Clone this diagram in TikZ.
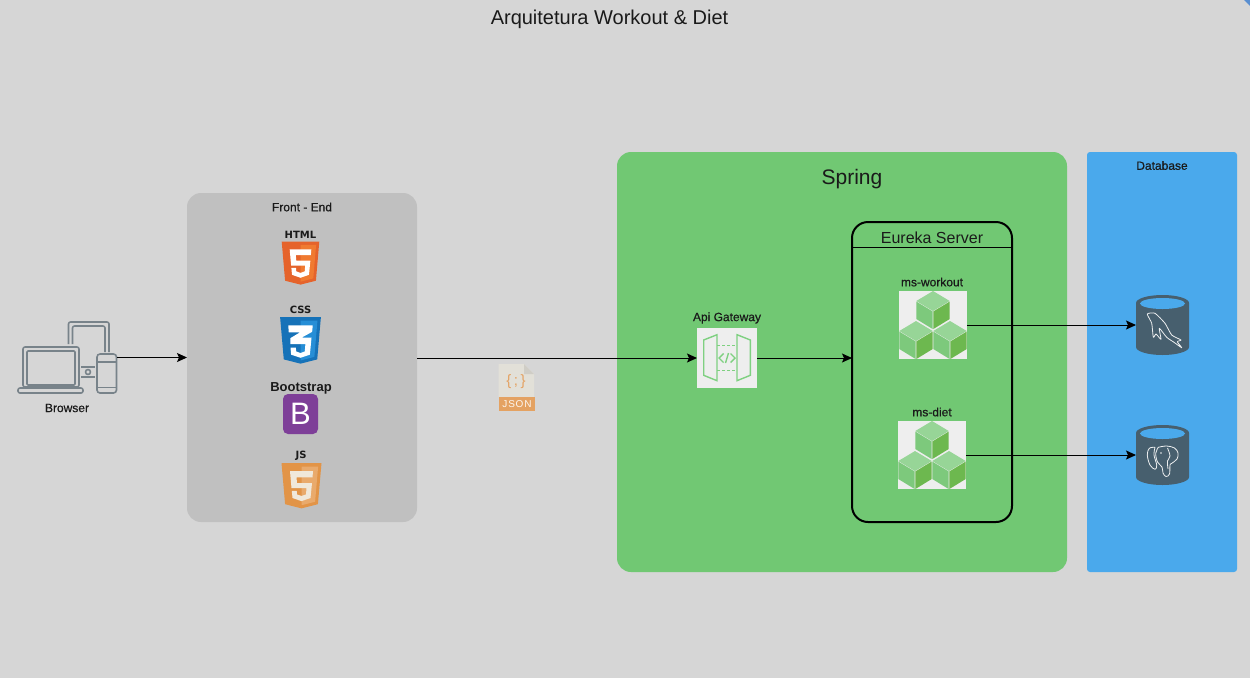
\documentclass[tikz,border=0pt]{standalone}
\usepackage{fontspec}
\setmainfont{Liberation Sans}
\newfontfamily\labelfont[FakeBold=0.6]{Liberation Sans}
\newfontfamily\badgefont{DejaVu Sans}
\newfontfamily\jsonfont[LetterSpace=8]{Liberation Sans}
\usetikzlibrary{arrows.meta, calc}
\definecolor{canvas}{HTML}{D6D6D6}
\definecolor{frontgray}{HTML}{C0C0C0}
\definecolor{springgreen}{HTML}{71C873}
\definecolor{dbblue}{HTML}{4AA9EC}
\definecolor{cylslate}{HTML}{475F6E}
\definecolor{icongray}{HTML}{78838A}
\definecolor{tile}{HTML}{EEEEEE}
\definecolor{gwgreen}{HTML}{7FD081}
\definecolor{cubetop}{HTML}{97D597}
\definecolor{cubeleft}{HTML}{7DC97C}
\definecolor{cuberight}{HTML}{6DB84F}
\definecolor{jsonpage}{HTML}{E2E0D8}
\definecolor{jsonfold}{HTML}{CFCDC6}
\definecolor{jsonorange}{HTML}{E4A262}
\definecolor{inkdark}{HTML}{1A1A1A}
\definecolor{htmlleft}{HTML}{E5632B}
\definecolor{htmlright}{HTML}{F07A30}
\definecolor{cssleft}{HTML}{1672B8}
\definecolor{cssright}{HTML}{268ED6}
\definecolor{jsleft}{HTML}{E29447}
\definecolor{jsright}{HTML}{E9AA6C}
\definecolor{jsglyph}{HTML}{F0E8DA}
\definecolor{bspurple}{HTML}{7E3F98}
\definecolor{cornerblue}{HTML}{5A8FD0}
\tikzset{
  panel/.style={inner sep=0pt, outer sep=0pt},
  iconbox/.style={inner sep=0pt, outer sep=0pt, minimum width=#1, minimum height=#1},
  caption/.style={text=inkdark, font=\labelfont\fontsize{12}{14}\selectfont},
  badge/.style={text=inkdark, font=\badgefont\bfseries\fontsize{10}{12}\selectfont},
  link/.style={black, line width=1pt, ->},
  pics/cubes/.style={code={
    \fill[tile] (-34,-34) rectangle (34,34);
    \foreach \dx/\dy in {0/-34, -17/-4, 17/-4} {
      \begin{scope}[shift={(\dx,\dy)}]
        \fill[cubetop] (0,0) -- (16.7,10) -- (0,20) -- (-16.7,10) -- cycle;
        \fill[cubeleft] (-16.7,10.6) -- (-0.4,20.4) -- (-0.4,38) -- (-16.7,28) -- cycle;
        \fill[cuberight] (16.7,10.6) -- (0.4,20.4) -- (0.4,38) -- (16.7,28) -- cycle;
      \end{scope}
    }
  }},
  pics/cylinder/.style={code={
    \fill[cylslate] (-26.5,-22) -- (-26.5,22) arc[start angle=180, end angle=0, x radius=26.5, y radius=8]
      -- (26.5,-22) arc[start angle=0, end angle=-180, x radius=26.5, y radius=8] -- cycle;
    \fill[dbblue] (0,-21.5) ellipse[x radius=22.5, y radius=5.5];
  }},
  pics/shieldbase/.style 2 args={code={
    \fill[#1] (-20,0) -- (20,0) -- (16.4,40) -- (0,44) -- (-16.4,40) -- cycle;
    \fill[#2] (0,3.5) -- (16.6,3.5) -- (13.6,37.6) -- (0,41) -- cycle;
  }},
  pics/fiveglyph/.style={code={
    \fill[#1] (-11.5,8) -- (11.5,8) -- (11,14) -- (-5,14) -- (-4.5,19.5) -- (10.5,19.5) -- (9,34)
      -- (0,37) -- (-9,34) -- (-9.7,27) -- (-4.8,27) -- (-4.5,30.5) -- (0,32) -- (4.5,30.5) -- (5,24.5)
      -- (-10,24.5) -- cycle;
  }},
  pics/threeglyph/.style={code={
    \fill[#1] (-12,8) -- (12,8) -- (11.4,14) -- (1,19.5) -- (10.8,19.5) -- (9.2,35.5) -- (0,38.5)
      -- (-9.2,35.5) -- (-9.8,29) -- (-4.6,29) -- (-4.2,32.5) -- (0,34) -- (4.2,32.5) -- (4.8,25.5)
      -- (-10,25.5) -- (-10,20) -- (-0.5,14.5) -- (-11.5,14.5) -- cycle;
  }}
}

\begin{document}
\begin{tikzpicture}[x=1pt, y=-1pt, >={Stealth[length=10pt, width=9pt, inset=2pt]}]

% Background
\fill[canvas] (0,0) rectangle (1250,678);
\useasboundingbox (0,0) rectangle (1250,678);
\fill[cornerblue] (1244,0) -- (1250,0) -- (1250,6) -- cycle;

% Title
\node[text=inkdark, font=\fontsize{20}{24}\selectfont] (title) at (609.5,19.5) {Arquitetura Workout \& Diet};

% Panels
\node[panel, fill=frontgray, rounded corners=14pt, minimum width=230pt, minimum height=329pt] (frontend) at (302,357.5) {};
\node[panel, fill=springgreen, rounded corners=14pt, minimum width=450pt, minimum height=420pt] (spring) at (842,362) {};
\node[panel, fill=dbblue, rounded corners=3pt, minimum width=150pt, minimum height=420pt] (database) at (1162,362) {};
\node[caption] (frontendlabel) at (302,207) {Front - End};
\node[text=inkdark, font=\fontsize{21}{25}\selectfont] (springlabel) at (852,179.5) {Spring};
\node[caption] (databaselabel) at (1162,165.5) {Database};

% Browser icon
\node[iconbox=99pt, minimum height=73pt] (browser) at (67.5,357.5) {};
\begin{scope}[icongray, line width=1.6pt, line join=round]
  \draw[rounded corners=2pt] (23,347) rectangle (79,387);
  \draw[rounded corners=1pt] (27,351) rectangle (75,385);
  \draw[rounded corners=2pt] (18,388) rectangle (83,393);
  \draw[rounded corners=2pt] (68.5,344) -- (68.5,322) -- (109,322) -- (109,352);
  \draw[rounded corners=2pt] (72.5,344) -- (72.5,326) -- (105,326) -- (105,352);
  \draw[rounded corners=3pt] (97,354) rectangle (116.5,393);
  \draw (97,362) -- (116.5,362);
  \draw (97,387.5) -- (116.5,387.5);
  \draw (81,367) -- (95,367);
  \draw (81,377) -- (95,377);
  \draw (88,372) circle (2.5pt);
\end{scope}
\node[caption] (browserlabel) at (67,408) {Browser};

% HTML, CSS, Bootstrap and JS logos
\node[badge] (htmllabel) at (300.5,234.5) {HTML};
\pic[xscale=0.94, yscale=0.98] at (300.5,241.5) {shieldbase={htmlleft}{htmlright}};
\pic[xscale=0.94, yscale=0.98] at (300.5,241.5) {fiveglyph=white};
\node[badge] (csslabel) at (300.5,309.5) {CSS};
\pic[xscale=1.02, yscale=1.06] at (300.5,317) {shieldbase={cssleft}{cssright}};
\pic[xscale=1.02, yscale=1.06] at (300.5,317) {threeglyph=white};
\node[text=inkdark, font=\bfseries\fontsize{13}{16}\selectfont] (bootstraplabel) at (301,388) {Bootstrap};
\node[panel, fill=bspurple, rounded corners=5pt, minimum width=35pt, minimum height=40pt, text=white, font=\fontsize{31}{35}\selectfont] (bootstrap) at (300.5,414) {B};
\node[badge] (jslabel) at (301,456) {JS};
\pic[xscale=1, yscale=1.03] at (301.5,463) {shieldbase={jsleft}{jsright}};
\pic[xscale=1, yscale=1.03] at (301.5,463) {fiveglyph=jsglyph};

% JSON file
\fill[jsonpage] (498.5,364) -- (524,364) -- (534,374) -- (534,397) -- (498.5,397) -- cycle;
\fill[jsonfold] (524,364) -- (534,374) -- (524,374) -- cycle;
\fill[jsonorange] (498.5,397) rectangle (534.5,411);
\node[text=jsonorange, font=\fontsize{15}{18}\selectfont] (jsonbraces) at (516,381.5) {\{\,;\,\}};
\node[text=white!90!jsonorange, font=\jsonfont\fontsize{10}{11}\selectfont] (jsontag) at (517,404) {JSON};

% Api Gateway
\node[caption] (gatewaylabel) at (727,318) {Api Gateway};
\node[iconbox=60pt, fill=tile] (gateway) at (727,358) {};
\begin{scope}[shift={(727,358)}, gwgreen, line width=1.4pt]
  \draw (-23.3,-18) -- (-10,-23.3) -- (-10,22.7) -- (-23.3,17.3) -- cycle;
  \draw (23.3,-18) -- (10,-23.3) -- (10,22.7) -- (23.3,17.3) -- cycle;
  \draw[densely dashed] (-10,-12.3) -- (10,-12.3);
  \draw[densely dashed] (-10,12.3) -- (10,12.3);
  \draw (-3.5,-4.5) -- (-8,0) -- (-3.5,4.5);
  \draw (3.5,-4.5) -- (8,0) -- (3.5,4.5);
  \draw (1.5,-5) -- (-1.5,5);
\end{scope}

% Eureka Server
\node[panel, draw=black, line width=2pt, rounded corners=16pt, minimum width=160pt, minimum height=300pt] (eureka) at (932,372) {};
\draw[black, line width=1pt] (852,247.5) -- (1012,247.5);
\node[text=inkdark, font=\fontsize{16}{20}\selectfont] (eurekalabel) at (932,237.5) {Eureka Server};

% Services
\node[caption] (workoutlabel) at (932,282) {ms-workout};
\node[iconbox=68pt] (workout) at (933,325) {};
\pic at (workout.center) {cubes};
\node[caption] (dietlabel) at (932,412) {ms-diet};
\node[iconbox=68pt] (diet) at (932,455) {};
\pic at (diet.center) {cubes};

% Databases
\node[iconbox=53pt, minimum height=60pt] (mysql) at (1162.5,325) {};
\pic at (mysql.center) {cylinder};
\draw[white!90!cylslate, line width=0.8pt, line join=round, shift={(1162.5,325)}]
  plot[smooth cycle, tension=0.35] coordinates
  {(-15.2,-11) (-7.5,-11.7) (2.5,-1.7) (9.2,10) (18.5,15) (14.8,16.7) (19.2,22.7) (11.5,17.3) (4.2,12.3) (-3.2,3.3) (-1.5,14.3) (-6.5,9) (-9.2,12.3) (-10.8,-1.7)};
\node[iconbox=53pt, minimum height=60pt] (postgres) at (1162.5,455) {};
\pic at (postgres.center) {cylinder};
\begin{scope}[shift={(1162.5,455)}, white!90!cylslate, line width=0.8pt, line join=round]
  % left ear
  \draw plot[smooth, tension=0.6] coordinates
    {(-7.5,-7.7) (-13.2,-6.7) (-15.2,0) (-12.5,10) (-7.5,14.3) (-5.8,10) (-8.5,0) (-7.5,-7.7)};
  % head, right ear and trunk
  \draw plot[smooth, tension=0.6] coordinates
    {(-4.2,-7.7) (4,-9) (12,-7) (15.5,-2) (14.5,4) (9,8.5) (7.5,10) (7,19) (3.5,21.5) (0.5,18) (-0.5,12) (-5,7) (-6.8,-1.7) (-4.2,-7.7)};
  \draw plot[smooth, tension=0.6] coordinates {(5,-7) (7.5,1) (5,6) (5.5,14)};
  \fill (-1.5,-2) circle (0.8pt);
\end{scope}

% Connectors
\draw[link] (browser.east) -- (browser.east -| frontend.west);
\draw[link] (gateway.west -| frontend.east) -- (gateway.west);
\draw[link] (gateway.east) -- (gateway.east -| eureka.west);
\draw[link] (workout.east) -- (workout.east -| mysql.west);
\draw[link] (diet.east) -- (diet.east -| postgres.west);

\end{tikzpicture}
\end{document}
